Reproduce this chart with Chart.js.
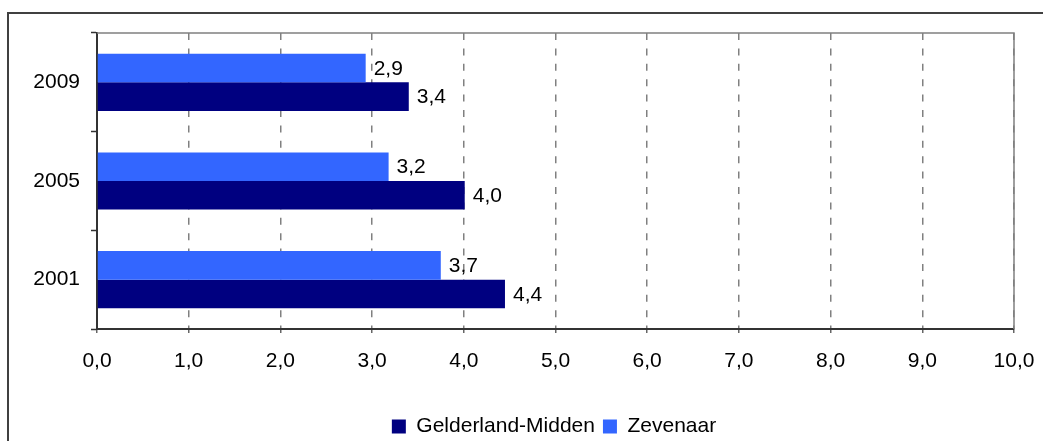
<!DOCTYPE html>
<html>
<head>
<meta charset="utf-8">
<script src="https://cdn.jsdelivr.net/npm/chart.js@4/dist/chart.umd.min.js"></script>
<style>
    html, body { margin: 0; padding: 0; background: #fff; }
    #wrap { width: 1043px; height: 441px; }
</style>
</head>
<body>
<div id="wrap"><canvas id="chart"></canvas></div>
<script>
// Values
const years = ['2009', '2005', '2001'];
const zevenaar = [2.93, 3.18, 3.749];
const gelderlandMidden = [3.40, 4.01, 4.449];
const xMin = 0;
const xMax = 10;

const FONT = '"Liberation Sans", Arial, sans-serif';
const FONT_SIZE = 21;

const fmt = v => Number(v).toFixed(1).replace('.', ',');

// outer frame + grey top/right edge of the plot area
const framePlugin = {
    id: 'frame',
    afterLayout(chart) {
        // legend sits a bit right of the canvas centre in the original
        if (chart.legend) {
            chart.legend.left += 47;
            chart.legend.right += 47;
        }
    },
    beforeDraw(chart) {
        const ctx = chart.ctx;
        ctx.save();
        ctx.strokeStyle = '#404040';
        ctx.lineWidth = 2;
        ctx.beginPath();
        ctx.moveTo(8, 441);
        ctx.lineTo(8, 13);
        ctx.lineTo(1043, 13);
        ctx.stroke();
        ctx.restore();
    },
    beforeDatasetsDraw(chart) {
        const {ctx, chartArea: a} = chart;
        ctx.save();
        ctx.strokeStyle = '#808080';
        ctx.lineWidth = 1.5;
        ctx.beginPath();
        ctx.moveTo(a.left, a.top);
        ctx.lineTo(a.right, a.top);
        ctx.lineTo(a.right, a.bottom);
        ctx.stroke();
        ctx.restore();
    }
};

// value labels to the right of each bar
const valueLabels = {
    id: 'valueLabels',
    afterDatasetsDraw(chart) {
        const ctx = chart.ctx;
        ctx.save();
        ctx.font = FONT_SIZE + 'px ' + FONT;
        ctx.fillStyle = '#000';
        ctx.textAlign = 'left';
        ctx.textBaseline = 'middle';
        chart.data.datasets.forEach((ds, i) => {
            const meta = chart.getDatasetMeta(i);
            meta.data.forEach((bar, j) => {
                ctx.fillText(fmt(ds.data[j]), bar.x + 8, bar.y + 1);
            });
        });
        ctx.restore();
    }
};

const ctx = document.getElementById('chart').getContext('2d');

new Chart(ctx, {
    type: 'bar',
    data: {
        labels: years,
        datasets: [
            {
                label: 'Zevenaar',
                data: zevenaar,
                backgroundColor: '#3366FF',
                borderWidth: 0
            },
            {
                label: 'Gelderland-Midden',
                data: gelderlandMidden,
                backgroundColor: '#000080',
                borderWidth: 0
            }
        ]
    },
    options: {
        indexAxis: 'y',
        responsive: true,
        maintainAspectRatio: false,
        animation: false,
        categoryPercentage: 0.58,
        barPercentage: 1,
        layout: {
            padding: { left: 0, top: 33, right: 29, bottom: -6 }
        },
        plugins: {
            tooltip: { enabled: false },
            legend: {
                position: 'bottom',
                reverse: true,
                labels: {
                    boxWidth: 14,
                    boxHeight: 14,
                    padding: 8,
                    color: '#000',
                    font: { family: FONT, size: FONT_SIZE }
                }
            }
        },
        scales: {
            x: {
                min: xMin,
                max: xMax,
                afterFit: scale => {
                    scale.height = 79;
                    scale.paddingLeft = 0;
                    scale.paddingRight = 0;
                },
                ticks: {
                    stepSize: 1,
                    autoSkip: false,
                    maxRotation: 0,
                    padding: 16,
                    color: '#000',
                    font: { family: FONT, size: FONT_SIZE },
                    callback: v => fmt(v)
                },
                grid: {
                    color: '#808080',
                    lineWidth: 1.5,
                    tickColor: '#666',
                    tickLength: 4
                },
                border: {
                    color: '#333',
                    width: 2,
                    dash: [7, 8.4]
                }
            },
            y: {
                afterFit: scale => { scale.width = 97; },
                ticks: {
                    padding: 11,
                    color: '#000',
                    font: { family: FONT, size: FONT_SIZE }
                },
                grid: {
                    drawOnChartArea: false,
                    drawTicks: true,
                    tickLength: 6,
                    tickColor: '#333',
                    tickWidth: 1.5,
                    offset: true
                },
                border: {
                    color: '#333',
                    width: 2
                }
            }
        }
    },
    plugins: [framePlugin, valueLabels]
});
</script>
</body>
</html>
